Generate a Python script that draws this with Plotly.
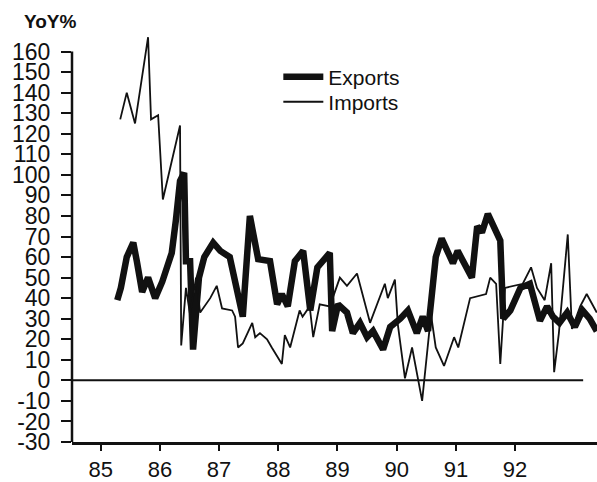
import plotly.graph_objects as go

# Exports (thick line) — decimal year (85 = 1985), YoY %
exports_x = [85.28, 85.34, 85.44, 85.55, 85.61, 85.70, 85.80, 85.92, 86.04, 86.12,
             86.20, 86.27, 86.34, 86.41, 86.44, 86.51, 86.56, 86.66, 86.75, 86.90,
             87.02, 87.18, 87.40, 87.52, 87.66, 87.86, 87.98, 88.06, 88.16, 88.28,
             88.42, 88.54, 88.66, 88.87, 88.91, 89.01, 89.16, 89.26, 89.38, 89.50,
             89.60, 89.77, 89.89, 90.06, 90.19, 90.34, 90.44, 90.53, 90.61, 90.66,
             90.76, 90.95, 91.03, 91.27, 91.36, 91.44, 91.54, 91.66, 91.75, 91.80,
             91.92, 92.09, 92.25, 92.42, 92.54, 92.64, 92.75, 92.88, 93.01, 93.14,
             93.26, 93.38]
exports_y = [39, 45, 60, 67, 58, 43, 50, 40, 48, 55,
             62, 78, 97, 101, 58, 58, 15, 50, 60, 67,
             63, 60, 31, 80, 59, 58, 37, 42, 36, 58,
             63, 34, 55, 62, 24, 37, 33, 23, 28, 21,
             24, 15, 26, 30, 34, 23, 31, 24, 44, 60,
             69, 57, 63, 50, 75, 72, 81, 73, 68, 30,
             34, 45, 47, 29, 36, 31, 28, 33, 26, 34,
             30, 24]

# Imports (thin line)
imports_x = [85.33, 85.44, 85.58, 85.80, 85.85, 85.97, 86.05, 86.34, 86.36, 86.44,
             86.51, 86.61, 86.68, 86.85, 86.96, 87.05, 87.22, 87.27, 87.32, 87.40,
             87.56, 87.61, 87.69, 87.81, 87.89, 88.06, 88.11, 88.20, 88.36, 88.41,
             88.53, 88.59, 88.70, 88.87, 89.04, 89.16, 89.33, 89.55, 89.80, 89.85,
             89.97, 90.02, 90.14, 90.26, 90.43, 90.58, 90.66, 90.80, 90.97, 91.04,
             91.24, 91.51, 91.58, 91.68, 91.75, 91.83, 92.13, 92.27, 92.37, 92.50,
             92.61, 92.66, 92.74, 92.89, 92.96, 93.10, 93.21, 93.38]
imports_y = [127, 140, 125, 167, 127, 129, 88, 124, 17, 45,
             32, 50, 33, 40, 46, 35, 34, 31, 16, 18,
             28, 21, 23, 20, 16, 8, 22, 16, 34, 31,
             36, 21, 37, 36, 50, 46, 52, 28, 47, 40,
             49, 27, 1, 16, -10, 32, 16, 7, 21, 16,
             40, 42, 50, 47, 8, 45, 47, 55, 45, 39,
             57, 4, 23, 71, 25, 36, 42, 33]

year_ticks = [85, 86, 87, 88, 89, 90, 91, 92]
year_labels = ["85", "86", "87", "88", "89", "90", "91", "92"]
y_ticks = list(range(-30, 170, 10))
y_labels = [str(v) for v in y_ticks]

FONT = "Liberation Sans, Arial, sans-serif"
INK = "#111111"

fig = go.Figure()
fig.add_trace(go.Scatter(x=exports_x, y=exports_y, mode="lines", name="Exports",
                         line=dict(color=INK, width=6.5), legend="legend"))
fig.add_trace(go.Scatter(x=imports_x, y=imports_y, mode="lines", name="Imports",
                         line=dict(color=INK, width=1.8), legend="legend2"))

X0, X1 = 84.515, 93.384
# zero line
fig.add_shape(type="line", xref="x", yref="y", x0=X0, x1=93.15, y0=0, y1=0,
              line=dict(color=INK, width=2))
# y axis line (only up to 160)
fig.add_shape(type="line", xref="paper", yref="y", x0=0, x1=0, y0=-30, y1=160,
              line=dict(color=INK, width=2.5))

fig.add_annotation(text="<b>YoY%</b>", xref="paper", yref="paper", x=-0.095, y=0.993,
                   xanchor="left", yanchor="bottom", showarrow=False,
                   font=dict(family=FONT, size=19, color=INK))

legend_common = dict(xanchor="left", yanchor="middle", bgcolor="rgba(0,0,0,0)",
                     font=dict(family=FONT, size=21, color=INK), itemwidth=40)
fig.update_layout(
    width=597, height=482,
    margin=dict(l=72, r=0, t=31, b=40),
    paper_bgcolor="white", plot_bgcolor="white",
    showlegend=True,
    legend=dict(x=0.393, y=0.888, **legend_common),
    legend2=dict(x=0.393, y=0.827, **legend_common),
    font=dict(family=FONT, color=INK),
)
fig.update_xaxes(range=[X0, X1], tickvals=year_ticks, ticktext=year_labels,
                 ticks="outside", ticklen=6, tickwidth=2, tickcolor=INK,
                 showline=True, linecolor=INK, linewidth=2.5,
                 showgrid=False, zeroline=False,
                 tickfont=dict(family=FONT, size=22, color=INK))
fig.update_yaxes(range=[-30, 170], tickvals=y_ticks, ticktext=y_labels,
                 ticks="outside", ticklen=10, tickwidth=2, tickcolor=INK,
                 ticklabelstandoff=6,
                 showline=False, showgrid=False, zeroline=False,
                 tickfont=dict(family=FONT, size=23, color=INK))

fig.write_html("out.html", config={"displayModeBar": False},
               post_script="document.body.style.margin='0';")
